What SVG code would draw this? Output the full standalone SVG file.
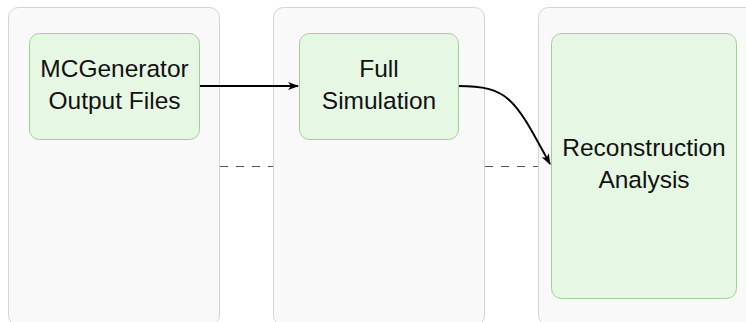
<svg xmlns="http://www.w3.org/2000/svg" width="746" height="322" viewBox="0 0 746 322">
  <style>
    .lane { fill: #f9f9f9; stroke: #d4d4d4; stroke-width: 1; }
    .node { fill: #e6f8e4; stroke: #9bd391; stroke-width: 1; }
    .label { font-family: "Liberation Sans", Arial, sans-serif; font-size: 24.5px; fill: #111111; text-anchor: middle; }
    .edge { fill: none; stroke: #000000; stroke-width: 2; }
    .sep { fill: none; stroke: #555555; stroke-width: 1.2; stroke-dasharray: 8 8; }
  </style>
  <defs>
    <marker id="arrow" viewBox="0 0 11 8" refX="10" refY="4" markerWidth="11" markerHeight="8" markerUnits="userSpaceOnUse" orient="auto">
      <path d="M0,0 L11,4 L0,8 L3,4 Z" fill="#000000"/>
    </marker>
  </defs>
  <rect width="746" height="322" fill="#ffffff"/>

  <!-- lanes -->
  <g id="lane-generation">
    <rect class="lane" x="8.5" y="7.5" width="211" height="318" rx="10"/>
  </g>
  <g id="lane-simulation">
    <rect class="lane" x="273.5" y="7.5" width="211" height="318" rx="10"/>
  </g>
  <g id="lane-reconstruction">
    <rect class="lane" x="538.5" y="7.5" width="220" height="318" rx="10"/>
  </g>

  <!-- connectors -->
  <g id="connectors">
    <path class="sep" d="M220,166.5 H273"/>
    <path class="sep" d="M485,166.5 H538"/>
    <path class="edge" d="M199,86 H298" marker-end="url(#arrow)"/>
    <path class="edge" d="M458,86 C510,86 515,100 550,164" marker-end="url(#arrow)"/>
  </g>

  <!-- process nodes -->
  <g id="node-mcgenerator">
    <rect class="node" x="29.5" y="33.5" width="170" height="106" rx="10"/>
    <text class="label" x="114.5" y="77">MCGenerator</text>
    <text class="label" x="114.5" y="109">Output Files</text>
  </g>
  <g id="node-fullsim">
    <rect class="node" x="299.5" y="33.5" width="159" height="106" rx="10"/>
    <text class="label" x="379" y="77">Full</text>
    <text class="label" x="379" y="109">Simulation</text>
  </g>
  <g id="node-reconstruction">
    <rect class="node" x="551.5" y="33.5" width="185" height="265" rx="10"/>
    <text class="label" x="644" y="156">Reconstruction</text>
    <text class="label" x="644" y="188">Analysis</text>
  </g>
</svg>
